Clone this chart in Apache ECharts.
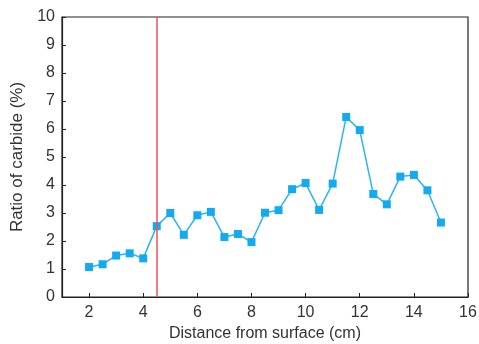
<!DOCTYPE html>
<html>
<head>
<meta charset="utf-8">
<script src="https://cdn.jsdelivr.net/npm/echarts@6/dist/echarts.min.js"></script>
<style>
  html, body { margin: 0; padding: 0; background: #fff; }
  #chart { width: 479px; height: 344px; }
</style>
</head>
<body>
<div id="chart"></div>
<script>
// distance from surface (cm)
const distances = [2, 2.5, 3, 3.5, 4, 4.5, 5, 5.5, 6, 6.5, 7, 7.5, 8, 8.5, 9, 9.5, 10, 10.5, 11, 11.5, 12, 12.5, 13, 13.5, 14, 14.5, 15];
// ratio of carbide (%)
const carbide = [1.07, 1.17, 1.48, 1.56, 1.38, 2.53, 3.0, 2.22, 2.92, 3.04, 2.14, 2.25, 1.96, 3.01, 3.1, 3.85, 4.07, 3.11, 4.05, 6.43, 5.96, 3.68, 3.31, 4.3, 4.36, 3.81, 2.66];
const xTicks = [2, 4, 6, 8, 10, 12, 14, 16];
const boundaryX = 4.5;

const chart = echarts.init(document.getElementById('chart'));

const font = 'Liberation Sans, Arial, sans-serif';
const tickFont = { fontFamily: font, fontSize: 16, color: '#333' };

chart.setOption({
  animation: false,
  backgroundColor: '#fff',
  grid: {
    left: 62, right: 11, top: 17, bottom: 47,
    outerBoundsMode: 'none',
    show: true, borderColor: '#222', borderWidth: 1.2
  },
  xAxis: {
    type: 'value',
    min: 1,
    max: 16,
    name: 'Distance from surface (cm)',
    nameLocation: 'middle',
    nameGap: 29,
    nameTextStyle: { fontFamily: font, fontSize: 16, color: '#333' },
    axisLine: { lineStyle: { color: '#222', width: 1.2 } },
    axisTick: { inside: true, length: 4, customValues: xTicks, lineStyle: { color: '#222' } },
    axisLabel: { ...tickFont, margin: 8, customValues: xTicks },
    splitLine: { show: false }
  },
  yAxis: {
    type: 'value',
    min: 0,
    max: 10,
    interval: 1,
    name: 'Ratio of carbide (%)',
    nameLocation: 'middle',
    nameGap: 29,
    nameTextStyle: { fontFamily: font, fontSize: 17, color: '#333' },
    axisLine: { show: true, lineStyle: { color: '#222', width: 1.2 } },
    axisTick: { show: true, inside: true, length: 4, lineStyle: { color: '#222' } },
    axisLabel: { ...tickFont, margin: 7 },
    splitLine: { show: false }
  },
  series: [{
    type: 'line',
    data: distances.map((d, i) => [d, carbide[i]]),
    symbol: 'rect',
    symbolSize: 8,
    lineStyle: { color: '#2cb4ef', width: 1.5 },
    itemStyle: { color: '#12aaf0' },
    markLine: {
      silent: true,
      symbol: 'none',
      label: { show: false },
      lineStyle: { color: '#f0505a', width: 1.5, type: 'solid' },
      data: [{ xAxis: boundaryX }]
    }
  }]
});
</script>
</body>
</html>
